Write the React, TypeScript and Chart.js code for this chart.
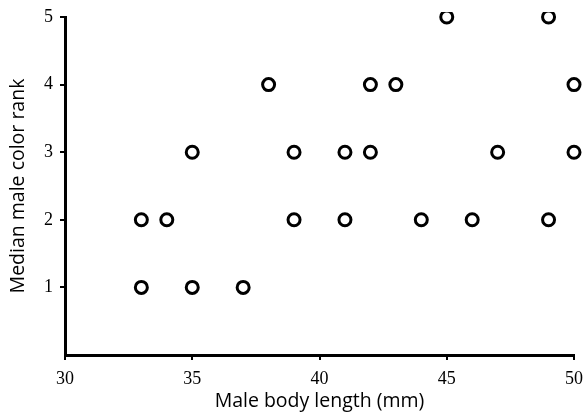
import React, { useEffect, useRef } from "react";
import { Chart, registerables } from "chart.js";

Chart.register(...registerables);

const rank5 = [45, 49];
const rank4 = [38, 42, 43, 50];
const rank3 = [35, 39, 41, 42, 47, 50];
const rank2 = [33, 34, 39, 41, 44, 46, 49];
const rank1 = [33, 35, 37];
const xTicks = [30, 35, 40, 45, 50];
const yTicks = [1, 2, 3, 4, 5];
const xTitle = "Male body length (mm)";
const yTitle = "Median male color rank";

export default function App() {
  const ref = useRef<HTMLCanvasElement>(null);
  useEffect(() => {
    const rows: [number, number[]][] = [
      [5, rank5],
      [4, rank4],
      [3, rank3],
      [2, rank2],
      [1, rank1],
    ];
    const data = rows.flatMap(([y, xs]) => xs.map((x) => ({ x, y })));
    const chart = new Chart(ref.current!, {
      type: "scatter",
      data: {
        datasets: [
          {
            data,
            pointRadius: 6,
            pointBorderWidth: 3,
            pointBackgroundColor: "#ffffff",
            pointBorderColor: "#000000",
            clip: { left: false, top: 5, right: false, bottom: false } as any,
          },
        ],
      },
      options: {
        animation: false,
        responsive: false,
        plugins: { legend: { display: false }, tooltip: { enabled: false } },
        layout: { padding: { left: 7, right: 11, top: 17, bottom: 4 } },
        scales: {
          x: {
            type: "linear",
            min: 30,
            max: 50,
            afterBuildTicks: (s: any) => {
              s.ticks = xTicks.map((v) => ({ value: v }));
            },
            afterFit: (s: any) => {
              s.height = 58;
              s.paddingLeft = 0;
              s.paddingRight = 0;
            },
            grid: {
              display: true,
              drawOnChartArea: false,
              drawTicks: true,
              tickLength: 5,
              color: "#000",
              lineWidth: 2,
            },
            border: { display: true, color: "#000", width: 3 },
            ticks: {
              color: "#000",
              padding: 8,
              font: { family: "Liberation Serif", size: 18 },
              maxRotation: 0,
            },
            title: {
              display: true,
              text: xTitle,
              color: "#000",
              padding: 0,
              font: { family: "Open Sans", size: 19.5 },
            },
          },
          y: {
            type: "linear",
            min: 0,
            max: 5,
            afterBuildTicks: (s: any) => {
              s.ticks = yTicks.map((v) => ({ value: v }));
            },
            afterFit: (s: any) => {
              s.width = 58;
              s.paddingTop = 0;
              s.paddingBottom = 0;
            },
            grid: {
              display: true,
              drawOnChartArea: false,
              drawTicks: true,
              tickLength: 5,
              color: "#000",
              lineWidth: 2,
            },
            border: { display: true, color: "#000", width: 3 },
            ticks: {
              color: "#000",
              padding: 7,
              font: { family: "Liberation Serif", size: 18 },
            },
            title: {
              display: true,
              text: yTitle,
              color: "#000",
              padding: 0,
              font: { family: "Open Sans", size: 19.5 },
            },
          },
        },
      },
    });
    return () => chart.destroy();
  }, []);
  return (
    <div style={{ position: "fixed", left: 0, top: 0, width: 585, height: 417, background: "#fff" }}>
      <canvas ref={ref} width={585} height={417} style={{ display: "block" }} />
    </div>
  );
}
